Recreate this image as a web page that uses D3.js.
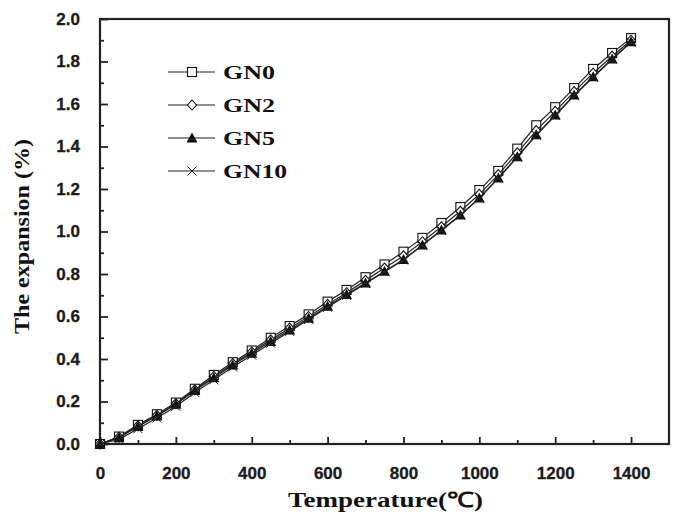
<!DOCTYPE html>
<html>
<head>
<meta charset="utf-8">
<script src="https://cdn.jsdelivr.net/npm/d3@7"></script>
<style>
  body { margin: 0; background: #fff; }
  .tick text { font-family: "Liberation Sans", Arial, sans-serif; font-weight: bold; font-size: 17px; fill: #1a1a1a; }
  .serif { font-family: "Liberation Serif", "Times New Roman", serif; font-weight: bold; fill: #111; }
</style>
</head>
<body>
<div id="chart"></div>
<script>
var svgWidth = 673;
var svgHeight = 517;

var margin = { top: 19, right: 4, bottom: 73, left: 100 };
var width = svgWidth - margin.left - margin.right;
var height = svgHeight - margin.top - margin.bottom;

// data
var temps = [0, 50, 100, 150, 200, 250, 300, 350, 400, 450, 500, 550, 600, 650, 700,
  750, 800, 850, 900, 950, 1000, 1050, 1100, 1150, 1200, 1250, 1300, 1350, 1400];
var gn0 = [0.0, 0.035, 0.09, 0.14, 0.195, 0.26, 0.325, 0.385, 0.44, 0.50, 0.555, 0.61, 0.67, 0.725, 0.785,
  0.845, 0.905, 0.97, 1.04, 1.115, 1.195, 1.285, 1.39, 1.50, 1.585, 1.675, 1.765, 1.84, 1.91];
var gn2 = [0.0, 0.032, 0.085, 0.135, 0.19, 0.255, 0.318, 0.378, 0.433, 0.49, 0.545, 0.60, 0.657, 0.712, 0.77,
  0.828, 0.885, 0.952, 1.022, 1.095, 1.175, 1.268, 1.37, 1.475, 1.565, 1.658, 1.745, 1.825, 1.90];
var gn5 = [0.0, 0.03, 0.082, 0.132, 0.187, 0.252, 0.312, 0.372, 0.427, 0.482, 0.537, 0.592, 0.648, 0.703, 0.758,
  0.813, 0.868, 0.937, 1.007, 1.078, 1.158, 1.252, 1.352, 1.455, 1.548, 1.642, 1.728, 1.812, 1.893];
var gn10 = [0.0, 0.022, 0.072, 0.122, 0.177, 0.242, 0.302, 0.362, 0.418, 0.474, 0.53, 0.586, 0.643, 0.699, 0.755,
  0.811, 0.866, 0.935, 1.005, 1.076, 1.156, 1.25, 1.35, 1.453, 1.546, 1.64, 1.726, 1.81, 1.89];

var seriesNames = ["GN0", "GN2", "GN5", "GN10"];
var seriesValues = [gn0, gn2, gn5, gn10];
var seriesSymbols = ["square", "diamond", "triangle", "cross"];

var xMajor = [0, 200, 400, 600, 800, 1000, 1200, 1400];
var xMinor = [100, 300, 500, 700, 900, 1100, 1300];
var yMajor = [0, 0.2, 0.4, 0.6, 0.8, 1.0, 1.2, 1.4, 1.6, 1.8, 2.0];
var yMinor = [0.1, 0.3, 0.5, 0.7, 0.9, 1.1, 1.3, 1.5, 1.7, 1.9];

var svg = d3.select("#chart")
  .append("svg")
  .attr("width", svgWidth)
  .attr("height", svgHeight);

var chartGroup = svg.append("g")
  .attr("transform", `translate(${margin.left}, ${margin.top})`);

var xScale = d3.scaleLinear().domain([0, 1500]).range([0, width]);
var yScale = d3.scaleLinear().domain([0, 2.0]).range([height, 0]);

// axes, ticks pointing inward
var bottomAxis = d3.axisBottom(xScale).tickValues(xMajor).tickSize(-7).tickPadding(23)
  .tickFormat(d3.format("d"));
var bottomMinor = d3.axisBottom(xScale).tickValues(xMinor).tickSize(-4).tickFormat("");
var leftAxis = d3.axisLeft(yScale).tickValues(yMajor).tickSize(-8).tickPadding(20)
  .tickFormat(d3.format(".1f"));
var leftMinor = d3.axisLeft(yScale).tickValues(yMinor).tickSize(-4).tickFormat("");

[[bottomAxis, `translate(0, ${height})`], [bottomMinor, `translate(0, ${height})`],
 [leftAxis, null], [leftMinor, null]].forEach(function(a) {
  var g = chartGroup.append("g").call(a[0]);
  if (a[1]) g.attr("transform", a[1]);
  g.select(".domain").remove();
  g.selectAll(".tick line").attr("stroke", "#222").attr("stroke-width", 1.8);
  g.selectAll(".tick text").attr("stroke", "#1a1a1a").attr("stroke-width", 0.3);
});

// frame
chartGroup.append("rect")
  .attr("width", width)
  .attr("height", height)
  .attr("fill", "none")
  .attr("stroke", "#222")
  .attr("stroke-width", 2.2);

function drawMarker(sel, kind) {
  if (kind === "square") {
    sel.append("rect").attr("x", -4.5).attr("y", -4.5).attr("width", 9).attr("height", 9)
      .attr("fill", "#fff").attr("stroke", "#111").attr("stroke-width", 1.1);
  } else if (kind === "diamond") {
    sel.append("path").attr("d", "M0,-5L4.5,0L0,5L-4.5,0Z")
      .attr("fill", "#fff").attr("stroke", "#111").attr("stroke-width", 1.1);
  } else if (kind === "triangle") {
    sel.append("path").attr("d", "M0,-5.5L5.5,4.5L-5.5,4.5Z").attr("fill", "#111");
  } else {
    sel.append("path").attr("d", "M-4.5,-4.5L4.5,4.5M-4.5,4.5L4.5,-4.5")
      .attr("stroke", "#222").attr("stroke-width", 1).attr("fill", "none");
  }
}

var line = d3.line()
  .x(function(d) { return xScale(d[0]); })
  .y(function(d) { return yScale(d[1]); });

seriesValues.forEach(function(vals, i) {
  var pts = temps.map(function(t, j) { return [t, vals[j]]; });
  chartGroup.append("path")
    .datum(pts)
    .attr("d", line)
    .attr("fill", "none")
    .attr("stroke", "#222")
    .attr("stroke-width", 1.2);
  chartGroup.selectAll(".m" + i)
    .data(pts)
    .enter()
    .append("g")
    .attr("class", "m" + i)
    .attr("transform", d => `translate(${xScale(d[0])}, ${yScale(d[1])})`)
    .each(function() { drawMarker(d3.select(this), seriesSymbols[i]); });
});

// legend
var legendRows = [72, 105, 138, 171];
seriesNames.forEach(function(name, i) {
  var g = svg.append("g").attr("transform", `translate(168, ${legendRows[i]})`);
  g.append("line").attr("x1", 0).attr("x2", 47).attr("y1", 0).attr("y2", 0)
    .attr("stroke", "#222").attr("stroke-width", 1.2);
  var m = g.append("g").attr("transform", "translate(24, 0)");
  drawMarker(m, seriesSymbols[i]);
  g.append("text")
    .attr("class", "serif")
    .attr("x", 55)
    .attr("y", 7)
    .attr("font-size", 19)
    .attr("textLength", name.length === 4 ? 64 : 52)
    .attr("lengthAdjust", "spacingAndGlyphs")
    .text(name);
});

// axis titles
svg.append("text")
  .attr("class", "serif")
  .attr("x", 288)
  .attr("y", 507)
  .attr("font-size", 21)
  .attr("textLength", 195)
  .attr("lengthAdjust", "spacingAndGlyphs")
  .text("Temperature(℃)");

svg.append("text")
  .attr("class", "serif")
  .attr("transform", "translate(29, 334) rotate(-90)")
  .attr("x", 0)
  .attr("y", 0)
  .attr("font-size", 21)
  .attr("textLength", 195)
  .attr("lengthAdjust", "spacingAndGlyphs")
  .text("The expansion (%)");
</script>
</body>
</html>
